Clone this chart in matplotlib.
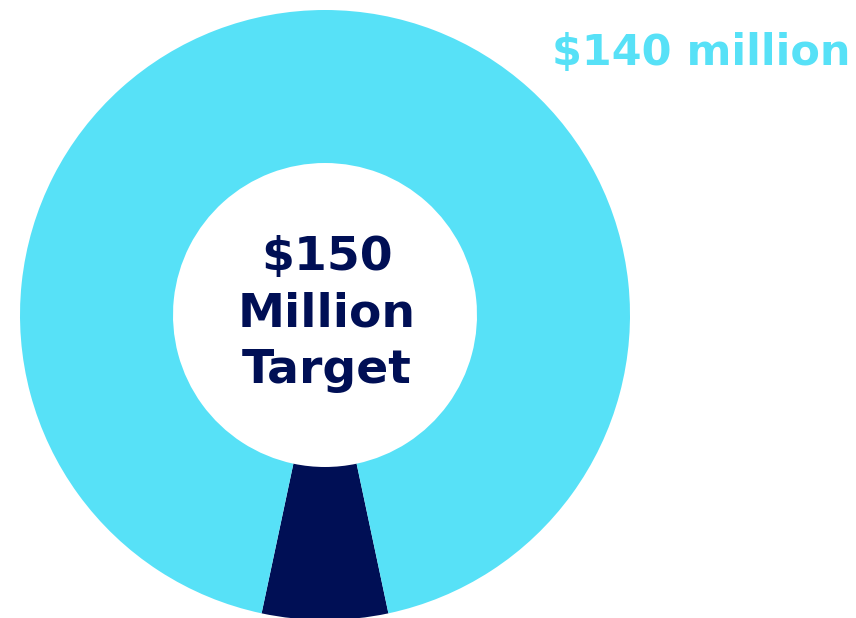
import matplotlib.pyplot as plt

# Raised vs. remaining, in $ millions
segments = ['Remaining', 'Raised']
amounts = [10, 140]
colors = ['#000F55', '#57E1F7']
target_label = '$150\nMillion\nTarget'
raised_label = '$140 million'

fig = plt.figure(figsize=(8.56, 6.18), dpi=100)
ax = fig.add_axes([0, 0, 1, 1])

# donut, with the small wedge centred at the bottom
start = 270 - 360 * amounts[0] / sum(amounts) / 2
ax.pie(amounts, colors=colors, startangle=start, counterclock=True,
       center=(325, 303), radius=305, frame=True,
       wedgeprops=dict(width=153, linewidth=0))
ax.set_xlim(0, 856)
ax.set_ylim(0, 618)
ax.axis('off')

ax.text(327, 304, target_label, ha='center', va='center', color='#000F55',
        fontsize=34, fontweight='bold', linespacing=1.33)
ax.text(701, 565, raised_label, ha='center', va='center', color='#57E1F7',
        fontsize=31, fontweight='bold')

fig.savefig('out.png', dpi=100)
